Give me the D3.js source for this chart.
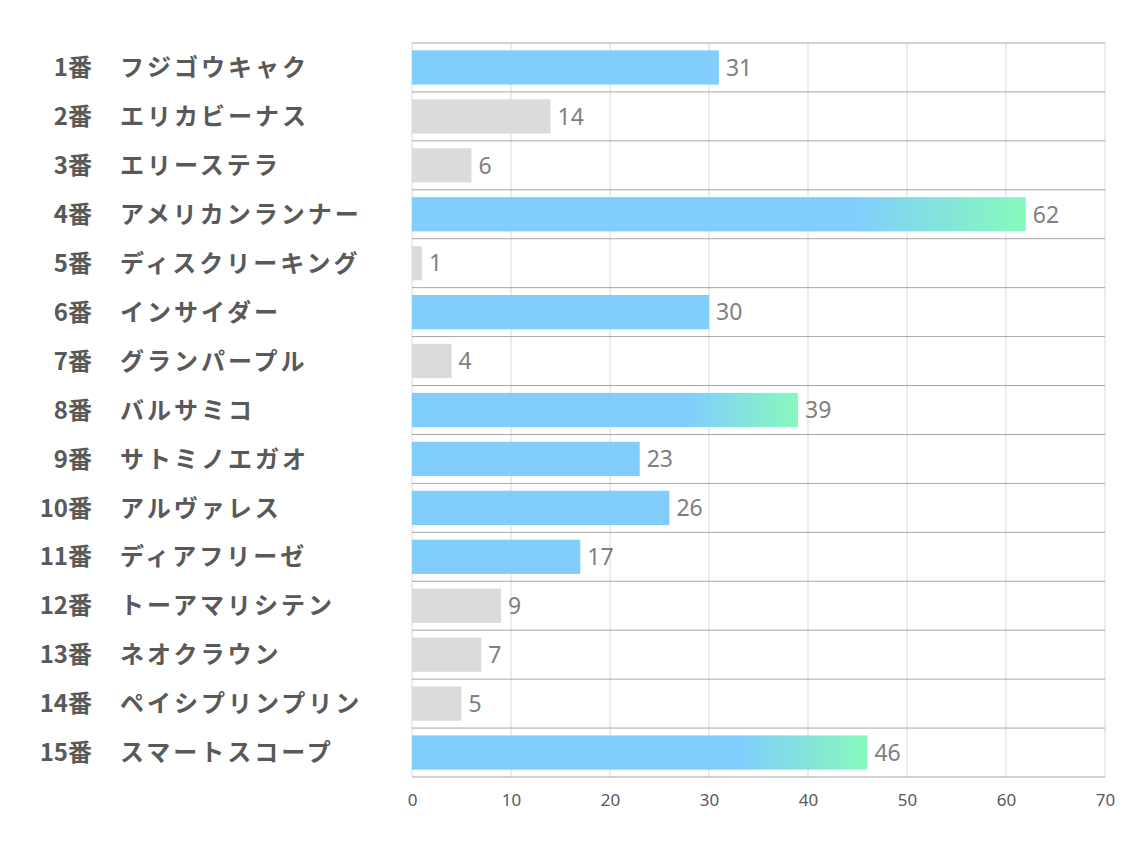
<!DOCTYPE html>
<html>
<head>
<meta charset="utf-8">
<script src="https://cdn.jsdelivr.net/npm/d3@7"></script>
<style>
  body { margin: 0; background: #fff; }
  svg { font-family: "Noto Sans CJK JP", "Noto Sans", sans-serif; }
</style>
</head>
<body>
<div id="chart"></div>
<script>
// horse numbers, names and votes
const numbers = ["1番","2番","3番","4番","5番","6番","7番","8番","9番","10番","11番","12番","13番","14番","15番"];
const names = ["フジゴウキャク","エリカビーナス","エリーステラ","アメリカンランナー","ディスクリーキング","インサイダー","グランパープル","バルサミコ","サトミノエガオ","アルヴァレス","ディアフリーゼ","トーアマリシテン","ネオクラウン","ペイシプリンプリン","スマートスコープ"];
const values = [31, 14, 6, 62, 1, 30, 4, 39, 23, 26, 17, 9, 7, 5, 46];
// bar style group: top = gradient, mid = blue, low = gray
const groups = ["mid","low","low","top","low","mid","low","top","mid","mid","mid","low","low","low","top"];
const xTicks = [0, 10, 20, 30, 40, 50, 60, 70];

const width = 1134, height = 850;
const margin = {top: 43, right: 29, bottom: 73, left: 412};
const w = width - margin.left - margin.right;
const h = height - margin.top - margin.bottom;

const svg = d3.select("#chart").append("svg")
    .attr("width", width)
    .attr("height", height);

const defs = svg.append("defs");
const grad = defs.append("linearGradient")
    .attr("id", "topGrad")
    .attr("x1", "0%").attr("x2", "100%")
    .attr("y1", "0%").attr("y2", "0%");
grad.append("stop").attr("offset", "72%").attr("stop-color", "#7acbfd");
grad.append("stop").attr("offset", "100%").attr("stop-color", "#80f9b8");

const g = svg.append("g")
    .attr("transform", "translate(" + margin.left + "," + margin.top + ")");

const x = d3.scaleLinear().domain([0, 70]).range([0, w]);
const y = d3.scaleBand().domain(d3.range(values.length)).range([0, h]).paddingInner(0.3).paddingOuter(0.15);
const rowY = d3.scaleLinear().domain([0, values.length]).range([0, h]);

// vertical grid
g.selectAll(".vgrid")
    .data(xTicks)
    .enter().append("line")
    .attr("class", "vgrid")
    .attr("x1", d => x(d)).attr("x2", d => x(d))
    .attr("y1", 0).attr("y2", h)
    .attr("stroke", "#d9d9d9")
    .attr("stroke-width", 1);

// horizontal row separators
g.selectAll(".hgrid")
    .data(d3.range(values.length + 1))
    .enter().append("line")
    .attr("class", "hgrid")
    .attr("x1", 0).attr("x2", w)
    .attr("y1", d => rowY(d)).attr("y2", d => rowY(d))
    .attr("stroke", "#a6a6a6")
    .attr("stroke-width", 1);

const fillFor = grp => grp === "top" ? "url(#topGrad)" : grp === "mid" ? "#7acbfd" : "#d9d9d9";

// bars
g.selectAll(".bar")
    .data(values)
    .enter().append("rect")
    .attr("class", "bar")
    .attr("x", x(0))
    .attr("y", (d, i) => y(i))
    .attr("width", d => x(d) - x(0))
    .attr("height", y.bandwidth())
    .attr("fill", (d, i) => fillFor(groups[i]))
    .attr("fill-opacity", 0.95);

// value labels
g.selectAll(".val")
    .data(values)
    .enter().append("text")
    .attr("class", "val")
    .attr("x", d => x(d) + 7)
    .attr("y", (d, i) => y(i) + y.bandwidth() / 2)
    .attr("dy", "0.36em")
    .attr("fill", "#7f7f7f")
    .attr("font-family", "'Noto Sans', sans-serif")
    .attr("font-size", 23)
    .text(d => d);

// row labels
g.selectAll(".num")
    .data(numbers)
    .enter().append("text")
    .attr("class", "num")
    .attr("x", 92 - margin.left)
    .attr("y", (d, i) => y(i) + y.bandwidth() / 2)
    .attr("dy", "0.36em")
    .attr("text-anchor", "end")
    .attr("font-size", 24)
    .attr("font-weight", "bold")
    .attr("fill", "#595959")
    .text(d => d);

g.selectAll(".name")
    .data(names)
    .enter().append("text")
    .attr("class", "name")
    .attr("x", 120 - margin.left)
    .attr("y", (d, i) => y(i) + y.bandwidth() / 2)
    .attr("dy", "0.36em")
    .attr("font-size", 24)
    .attr("letter-spacing", 3)
    .attr("font-weight", "bold")
    .attr("fill", "#595959")
    .text(d => d);

// x axis
const xAxis = d3.axisBottom(x).tickValues(xTicks).tickSize(0).tickPadding(17);
const xg = g.append("g")
    .attr("transform", "translate(0," + h + ")")
    .call(xAxis);
xg.select(".domain").remove();
xg.selectAll("text")
    .attr("fill", "#595959")
    .attr("font-family", "'Noto Sans', sans-serif")
    .attr("font-size", 17);
</script>
</body>
</html>
